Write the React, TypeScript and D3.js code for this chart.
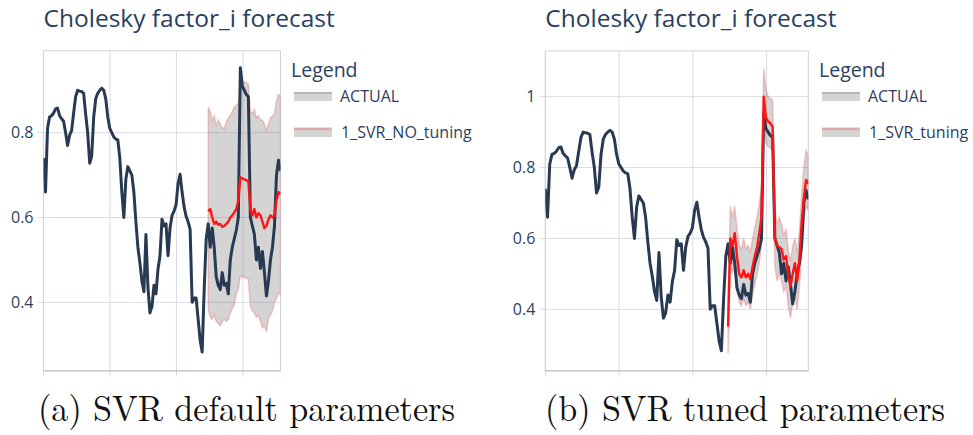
import React from "react";
import * as d3 from "d3";

// Observed series, one value per time step (119 steps).
const actual: number[] = [
  0.74, 0.66, 0.81, 0.837, 0.84, 0.846, 0.856, 0.858, 0.84, 0.833,
  0.827, 0.8, 0.77, 0.794, 0.805, 0.846, 0.885, 0.9, 0.898, 0.897,
  0.893, 0.843, 0.8, 0.728, 0.745, 0.837, 0.88, 0.893, 0.9, 0.905,
  0.9, 0.88, 0.837, 0.81, 0.8, 0.79, 0.785, 0.783, 0.74, 0.66,
  0.6, 0.69, 0.72, 0.71, 0.7, 0.66, 0.59, 0.53, 0.493, 0.45,
  0.425, 0.56, 0.435, 0.375, 0.39, 0.44, 0.42, 0.478, 0.509, 0.596,
  0.58, 0.585, 0.51, 0.575, 0.605, 0.615, 0.63, 0.68, 0.702, 0.66,
  0.625, 0.603, 0.59, 0.572, 0.4, 0.41, 0.41, 0.36, 0.31, 0.283,
  0.43, 0.55, 0.585, 0.53, 0.575, 0.53, 0.46, 0.44, 0.43, 0.47,
  0.44, 0.445, 0.42, 0.5, 0.53, 0.55, 0.57, 0.6, 0.953, 0.91,
  0.9, 0.89, 0.885, 0.6, 0.58, 0.56, 0.5, 0.53, 0.48, 0.52,
  0.47, 0.415, 0.45, 0.5, 0.53, 0.58, 0.7, 0.735, 0.71,
];

// First time step covered by the forecasts.
const forecastStart = 82;

// SVR with default parameters: prediction and interval bounds.
const svrDefault: number[] = [
  0.615, 0.62, 0.6, 0.585, 0.59, 0.583, 0.585, 0.578, 0.58, 0.585,
  0.59, 0.6, 0.605, 0.612, 0.62, 0.64, 0.695, 0.692, 0.69, 0.688,
  0.685, 0.62, 0.605, 0.62, 0.6, 0.61, 0.605, 0.59, 0.575, 0.58,
  0.595, 0.605, 0.6, 0.605, 0.64, 0.66, 0.655,
];
const svrDefaultUpper: number[] = [
  0.86, 0.85, 0.83, 0.84, 0.815, 0.83, 0.82, 0.812, 0.81, 0.825,
  0.835, 0.84, 0.85, 0.86, 0.865, 0.87, 0.92, 0.92, 0.92, 0.918,
  0.915, 0.85, 0.845, 0.855, 0.835, 0.84, 0.83, 0.83, 0.82, 0.805,
  0.82, 0.835, 0.84, 0.845, 0.875, 0.89, 0.885,
];
const svrDefaultLower: number[] = [
  0.385, 0.365, 0.36, 0.37, 0.355, 0.35, 0.345, 0.355, 0.36, 0.355,
  0.36, 0.375, 0.385, 0.395, 0.42, 0.43, 0.462, 0.46, 0.458, 0.457,
  0.455, 0.39, 0.38, 0.375, 0.365, 0.37, 0.355, 0.34, 0.345, 0.33,
  0.36, 0.37, 0.38, 0.4, 0.41, 0.42, 0.42,
];

// SVR with tuned parameters: prediction and interval bounds.
const svrTuned: number[] = [
  0.351, 0.6, 0.58, 0.615, 0.55, 0.5, 0.49, 0.51, 0.49, 0.5,
  0.485, 0.52, 0.55, 0.575, 0.615, 0.66, 1.0, 0.94, 0.93, 0.925,
  0.915, 0.6, 0.58, 0.575, 0.57, 0.54, 0.55, 0.5, 0.465, 0.5,
  0.53, 0.48, 0.54, 0.64, 0.715, 0.765, 0.755,
];
const svrTunedUpper: number[] = [
  0.42, 0.69, 0.66, 0.69, 0.63, 0.58, 0.57, 0.6, 0.57, 0.58,
  0.56, 0.6, 0.63, 0.66, 0.7, 0.74, 1.08, 1.02, 1.0, 0.995,
  0.99, 0.68, 0.64, 0.66, 0.64, 0.61, 0.625, 0.57, 0.535, 0.58,
  0.6, 0.56, 0.62, 0.72, 0.8, 0.85, 0.83,
];
const svrTunedLower: number[] = [
  0.275, 0.52, 0.5, 0.54, 0.47, 0.42, 0.41, 0.43, 0.41, 0.42,
  0.4, 0.44, 0.47, 0.5, 0.53, 0.58, 0.93, 0.87, 0.86, 0.855,
  0.845, 0.52, 0.48, 0.5, 0.48, 0.45, 0.465, 0.41, 0.375, 0.42,
  0.44, 0.4, 0.46, 0.56, 0.64, 0.69, 0.68,
];

// Vertical grid positions (time steps) and horizontal tick values.
const xTickSteps: number[] = [0, 33.1, 66.2, 99.3];
const yTicksDefault: number[] = [0.4, 0.6, 0.8];
const yTicksTuned: number[] = [0.4, 0.6, 0.8, 1];

const chartTitle = "Cholesky factor_i forecast";
const legendTitle = "Legend";
const actualName = "ACTUAL";

const W = 973;
const H = 435;

const TEXT = "#2a3f5f";
const GRID = "#d9dce1";
const DARK = "#283a52";
const RED = "#ff1414";
const BAND_FILL = "rgba(120,120,120,0.32)";
const BAND_EDGE = "rgba(235,90,90,0.32)";
const SANS = "'Open Sans', 'DejaVu Sans', sans-serif";
const SERIF = "'Latin Modern Roman', 'Liberation Serif', 'DejaVu Serif', serif";

type PanelProps = {
  left: number;
  right: number;
  top: number;
  bottom: number;
  yDomain: [number, number];
  yTicks: number[];
  pred: number[];
  upper: number[];
  lower: number[];
  seriesName: string;
  legendX: number;
  caption: string;
  captionX: number;
  captionWidth: number;
  clipId: string;
};

function Panel(p: PanelProps) {
  const x = d3
    .scaleLinear()
    .domain([0, actual.length - 1])
    .range([p.left, p.right]);
  const y = d3.scaleLinear().domain(p.yDomain).range([p.bottom, p.top]);

  const line = d3
    .line<[number, number]>()
    .x((d) => x(d[0]))
    .y((d) => y(d[1]));

  const actualPts: [number, number][] = actual.map((v, i) => [i, v]);
  const predPts: [number, number][] = p.pred.map((v, i) => [forecastStart + i, v]);
  const upperPts: [number, number][] = p.upper.map((v, i) => [forecastStart + i, v]);
  const lowerPts: [number, number][] = p.lower
    .map((v, i) => [forecastStart + i, v] as [number, number])
    .reverse();
  const bandPath = line(upperPts.concat(lowerPts)) + "Z";

  const lg = p.legendX;

  return (
    <g>
      <defs>
        <clipPath id={p.clipId}>
          <rect x={p.left} y={p.top} width={p.right - p.left} height={p.bottom - p.top} />
        </clipPath>
      </defs>

      <text x={p.left} y={26.5} fontFamily={SANS} fontSize={24.5} fill={TEXT}>
        {chartTitle}
      </text>

      {/* grid */}
      {xTickSteps.map((t) => (
        <g key={"gx" + t}>
          <line x1={x(t)} x2={x(t)} y1={p.top} y2={p.bottom} stroke={GRID} strokeWidth={1} />
          <line x1={x(t)} x2={x(t)} y1={p.bottom} y2={p.bottom + 6} stroke={GRID} strokeWidth={1} />
        </g>
      ))}
      {p.yTicks.map((t) => (
        <g key={"gy" + t}>
          <line x1={p.left} x2={p.right} y1={y(t)} y2={y(t)} stroke={GRID} strokeWidth={1} />
          <line x1={p.left - 6} x2={p.left} y1={y(t)} y2={y(t)} stroke={GRID} strokeWidth={1} />
          <text
            x={p.left - 10}
            y={y(t)}
            dy="0.35em"
            textAnchor="end"
            fontFamily={SANS}
            fontSize={16}
            fill={TEXT}
          >
            {String(t)}
          </text>
        </g>
      ))}
      <rect
        x={p.left}
        y={p.top}
        width={p.right - p.left}
        height={p.bottom - p.top}
        fill="none"
        stroke="#cfd3d9"
        strokeWidth={1}
      />
      <line x1={p.left} x2={p.right} y1={p.bottom} y2={p.bottom} stroke="#c4c8cf" strokeWidth={1.5} />

      {/* series */}
      <g clipPath={`url(#${p.clipId})`}>
        <path d={bandPath} fill={BAND_FILL} stroke={BAND_EDGE} strokeWidth={1.5} />
        <path
          d={line(actualPts) || ""}
          fill="none"
          stroke={DARK}
          strokeWidth={3}
          strokeLinejoin="round"
        />
        <path
          d={line(predPts) || ""}
          fill="none"
          stroke={RED}
          strokeWidth={2.4}
          strokeLinejoin="round"
        />
      </g>

      {/* legend */}
      <text x={lg} y={77} fontFamily={SANS} fontSize={19.5} fill={TEXT}>
        {legendTitle}
      </text>
      <rect x={lg + 3} y={92} width={38} height={9} fill={BAND_FILL} />
      <line x1={lg + 3} x2={lg + 41} y1={93} y2={93} stroke="rgba(90,90,90,0.25)" strokeWidth={2} />
      <text x={lg + 49} y={101.5} fontFamily={SANS} fontSize={16} fill={TEXT}>
        {actualName}
      </text>
      <rect x={lg + 3} y={127.5} width={38} height={9.5} fill={BAND_FILL} />
      <line x1={lg + 3} x2={lg + 41} y1={129} y2={129} stroke={BAND_EDGE} strokeWidth={2.5} />
      <text x={lg + 50} y={138} fontFamily={SANS} fontSize={16} fill={TEXT}>
        {p.seriesName}
      </text>

      {/* caption */}
      <text
        x={p.captionX}
        y={421}
        fontFamily={SERIF}
        fontSize={36}
        fill="#111"
        textLength={p.captionWidth}
        lengthAdjust="spacingAndGlyphs"
      >
        {p.caption}
      </text>
    </g>
  );
}

export default function App() {
  return (
    <div style={{ position: "absolute", left: 0, top: 0 }}>
      <svg width={W} height={H} viewBox={`0 0 ${W} ${H}`} style={{ display: "block", background: "#fff" }}>
        <rect x={0} y={0} width={W} height={H} fill="#fff" />
        <Panel
          left={43.5}
          right={280.5}
          top={50.7}
          bottom={370.7}
          yDomain={[0.2387, 0.9934]}
          yTicks={yTicksDefault}
          pred={svrDefault}
          upper={svrDefaultUpper}
          lower={svrDefaultLower}
          seriesName="1_SVR_NO_tuning"
          legendX={291}
          caption="(a) SVR default parameters"
          captionX={38}
          captionWidth={417}
          clipId="clip-default"
        />
        <Panel
          left={545.3}
          right={808.3}
          top={51}
          bottom={370.7}
          yDomain={[0.2266, 1.129]}
          yTicks={yTicksTuned}
          pred={svrTuned}
          upper={svrTunedUpper}
          lower={svrTunedLower}
          seriesName="1_SVR_tuning"
          legendX={819}
          caption="(b) SVR tuned parameters"
          captionX={545}
          captionWidth={400}
          clipId="clip-tuned"
        />
      </svg>
    </div>
  );
}
